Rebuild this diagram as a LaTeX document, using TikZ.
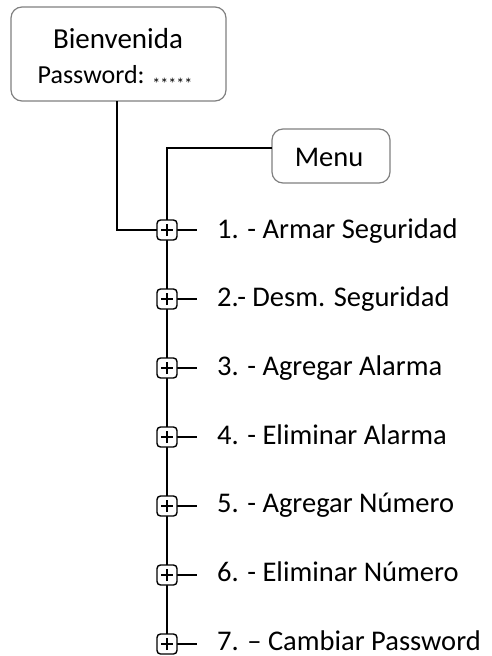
\documentclass[tikz,border=0pt]{standalone}
\usepackage{fontspec}
\setmainfont{Carlito}
\begin{document}
\begin{tikzpicture}[x=1pt,y=-1pt,
  line/.style={line width=1.4pt,black},
  rbox/.style={draw=black!50,line width=1.2pt,rounded corners=11pt},
  plusbox/.style={draw=black,line width=1.4pt,rounded corners=3.5pt,minimum size=20pt,inner sep=0pt,fill=white},
  item/.style={anchor=base west,inner sep=0pt,font=\fontsize{28.5}{30}\selectfont}]
\useasboundingbox (0,0) rectangle (491,656);
% boxes
\draw[rbox] (11,7) rectangle (226,101);
\node[inner sep=0pt,anchor=base,font=\fontsize{29}{30}\selectfont] (bt) at (118,48) {Bienvenida};
\node[inner sep=0pt,anchor=base,font=\fontsize{26}{28}\selectfont] (pt) at (115,83) {Password: \raisebox{-6pt}{\fontsize{16}{16}\selectfont *****}};
\coordinate (bb) at (117,101);
\draw[rbox] (272,129) rectangle (390,183);
\node[inner sep=0pt,anchor=base,font=\fontsize{28.5}{30}\selectfont] (mt) at (329,166) {Menu};
\coordinate (ml) at (272,148);
% spine
\coordinate (top) at (167,148);
\foreach \i/\t [count=\k from 0] in {1/{1. - Armar Seguridad},2/{2.- Desm. Seguridad},3/{3. - Agregar Alarma},4/{4. - Eliminar Alarma},5/{5. - Agregar Número},6/{6. - Eliminar Número},7/{7. – Cambiar Password}}{
  \coordinate (c\i) at (167,{230+69*\k});
  \coordinate (s\i) at (197,{230+69*\k});
  \node[item] (t\i) at (217,{238+68.7*\k}) {\t};
}
\draw[line] (ml) -- (top) -- (c7);
\draw[line] (bb) |- (c1);
\foreach \i in {1,...,7}{
  \draw[line] (c\i) -- (s\i);
  \node[plusbox] (p\i) at (c\i) {};
  \draw[line width=1.3pt] ([xshift=-6pt]p\i.center) -- ([xshift=6pt]p\i.center);
  \draw[line width=1.3pt] ([yshift=-6pt]p\i.center) -- ([yshift=6pt]p\i.center);
}
\end{tikzpicture}
\end{document}
